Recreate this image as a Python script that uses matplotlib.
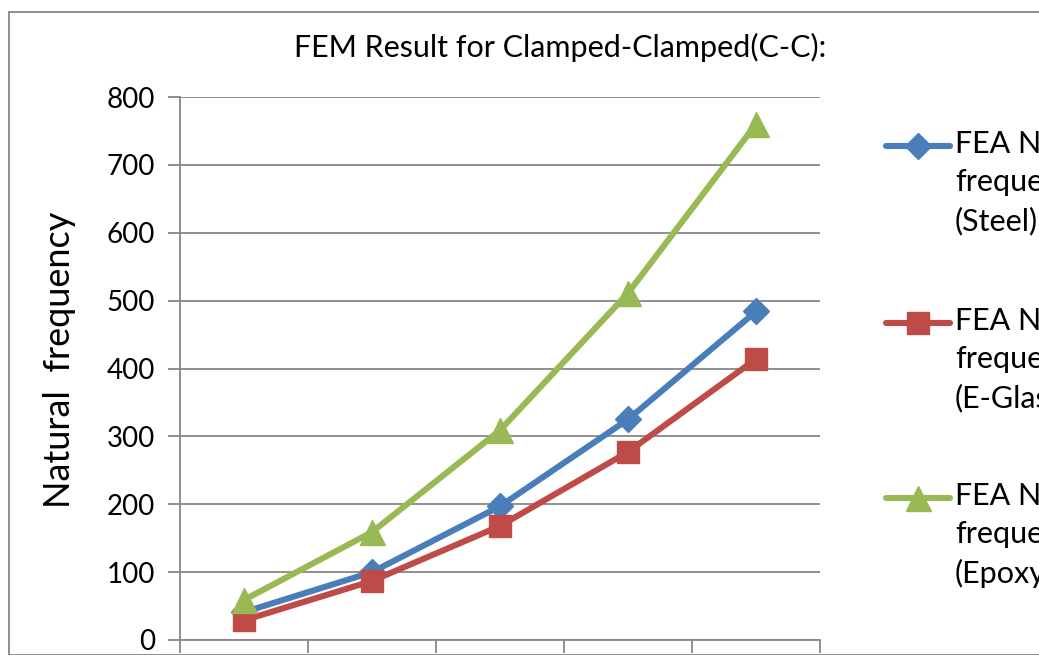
import numpy as np
import matplotlib
matplotlib.use("Agg")
import matplotlib.pyplot as plt
from matplotlib.lines import Line2D
from matplotlib.patches import Rectangle

plt.rcParams['font.family'] = ['Lato', 'DejaVu Sans']

# data
categories = [1, 2, 3, 4, 5]
steel = [41, 100, 197, 325, 484]
eglass = [29, 87, 168, 277, 414]
epoxy = [59, 159, 309, 511, 760]
labels = ["FEA Natural\nfrequency\n(Steel)",
          "FEA Natural\nfrequency\n(E-Glass)",
          "FEA Natural\nfrequency\n(Epoxy)"]
yticks = [0, 100, 200, 300, 400, 500, 600, 700, 800]

grey = "#878787"
W, H = 1039, 655

fig = plt.figure(figsize=(W / 100, H / 100), dpi=100)
ax = fig.add_axes([180 / W, 15 / H, 640 / W, 543 / H])

x = np.arange(len(categories))
lines = []
lines += ax.plot(x, steel, color="#4A7EBB", lw=4.4, marker="D", ms=13, label=labels[0])
lines += ax.plot(x, eglass, color="#BE4B48", lw=4.4, marker="s", ms=16, label=labels[1])
lines += ax.plot(x, epoxy, color="#98B954", lw=4.4, marker="^", ms=18, label=labels[2])

ax.set_xlim(-0.5, len(categories) - 0.5)
ax.set_ylim(0, 800)
ax.set_yticks(yticks)
ax.set_yticklabels([str(v) for v in yticks], fontsize=20)
ax.set_xticks(np.arange(-0.5, len(categories), 1.0))
ax.set_xticklabels([])
ax.yaxis.grid(True, color=grey, lw=1.3)
ax.set_axisbelow(True)
ax.tick_params(axis='both', direction='out', color=grey, width=1.3, length=9)
ax.tick_params(axis='y', pad=9)
for s in ['top', 'right']:
    ax.spines[s].set_visible(False)
for s in ['left', 'bottom']:
    ax.spines[s].set_color(grey)
    ax.spines[s].set_linewidth(1.3)

ax.set_ylabel("Natural  frequency", fontsize=26)
ax.yaxis.set_label_coords(-0.163, 0.516)
fig.text(560 / W, 1 - 47 / H, "FEM Result for Clamped-Clamped(C-C):",
         ha='center', va='center', fontsize=22)

# legend: marker sits on the first line of each wrapped label
row_y = [146, 323, 498]
for ln, lab, yy in zip(lines, labels, row_y):
    yf = 1 - yy / H
    fig.add_artist(Line2D([886 / W, 950 / W], [yf, yf], transform=fig.transFigure,
                          color=ln.get_color(), lw=4.4, solid_capstyle='round'))
    fig.add_artist(Line2D([918 / W], [yf], transform=fig.transFigure,
                          color=ln.get_color(), marker=ln.get_marker(),
                          ms=ln.get_markersize()))
    fig.text(955 / W, 1 - (yy - 16) / H, lab, ha='left', va='top',
             fontsize=22, linespacing=1.45)

# outer chart border
fig.patches.append(Rectangle((9 / W, 0), 1.2, 1 - 12 / H,
                             transform=fig.transFigure, fill=False,
                             edgecolor=grey, lw=1.3))

fig.savefig("out.png", dpi=100)
